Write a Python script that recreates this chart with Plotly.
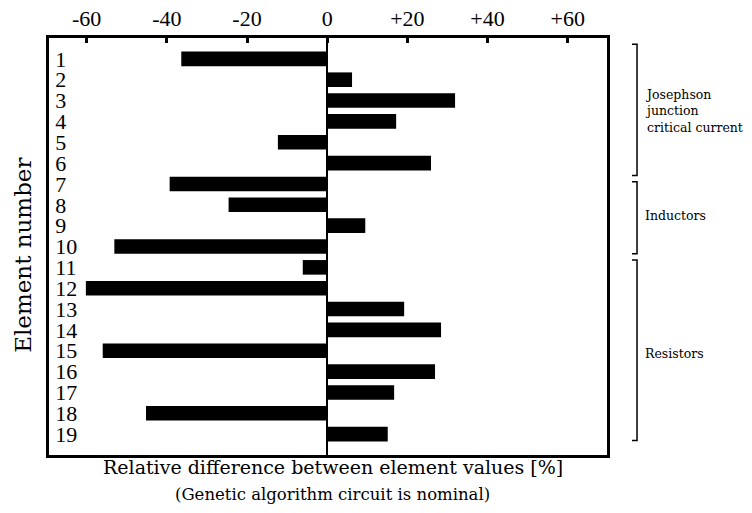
import plotly.graph_objects as go

elements = list(range(1, 20))
rel_diff = [-36.4, 6.2, 31.9, 17.2, -12.3, 25.9, -39.3, -24.6, 9.5, -53.1,
            -6.1, -60.2, 19.2, 28.4, -56.0, 26.9, 16.7, -45.2, 15.1]
x_ticks = [-60, -40, -20, 0, 20, 40, 60]
x_tick_labels = ["-60", "-40", "-20", "0", "+20", "+40", "+60"]
groups = ["Josephson<br>junction<br>critical current", "Inductors", "Resistors"]
group_spans = [(0.3, 6.6), (6.9, 10.35), (10.65, 19.3)]

NUM_FONT = "Liberation Serif"
TXT_FONT = "DejaVu Serif"

fig = go.Figure()
fig.add_trace(go.Bar(
    x=rel_diff, y=elements, orientation="h",
    marker=dict(color="black", line=dict(width=0)),
    width=0.7,
))

fig.update_layout(
    width=752, height=513,
    margin=dict(l=49, r=145, t=38, b=58, autoexpand=False),
    paper_bgcolor="white", plot_bgcolor="white",
    showlegend=False,
    font=dict(family=NUM_FONT, color="black", size=22),
    xaxis=dict(
        range=[-69.4, 69.8], side="top", automargin=False,
        tickvals=x_ticks, ticktext=x_tick_labels,
        ticks="inside", ticklen=5, tickwidth=2.5, tickcolor="black",
        showline=True, linecolor="black", linewidth=2.5, mirror=True,
        showgrid=False, zeroline=True, zerolinecolor="black", zerolinewidth=2,
        tickfont=dict(size=22, family=NUM_FONT, color="black"),
    ),
    yaxis=dict(
        range=[20, 0], automargin=False,
        tickvals=elements, ticktext=[str(e) for e in elements],
        ticks="", ticklabelposition="inside", ticklabelstandoff=8,
        showline=True, linecolor="black", linewidth=2.5, mirror=True,
        showgrid=False, zeroline=False,
        tickfont=dict(size=22, family=NUM_FONT, color="black"),
    ),
)

annotations = [
    dict(text="Relative difference between element values [%]", x=0.509, y=-0.029,
         xref="paper", yref="paper", xanchor="center", yanchor="middle",
         showarrow=False, font=dict(size=19, family=TXT_FONT, color="black")),
    dict(text="(Genetic algorithm circuit is nominal)", x=0.508, y=-0.094,
         xref="paper", yref="paper", xanchor="center", yanchor="middle",
         showarrow=False, font=dict(size=16.5, family=TXT_FONT, color="black")),
    dict(text="Element number", x=-0.0466, y=0.48, textangle=-90,
         xref="paper", yref="paper", xanchor="center", yanchor="middle",
         showarrow=False, font=dict(size=23, family=TXT_FONT, color="black")),
]
label_y = [3.5, 8.5, 15.15]
for g, (a, b), ly in zip(groups, group_spans, label_y):
    annotations.append(dict(text=g, x=1.0645, y=ly, xref="paper", yref="y",
                            xanchor="left", yanchor="middle", align="left",
                            showarrow=False, font=dict(size=12.5, family=TXT_FONT, color="black")))
    xv, xh = 1.0538, 1.0448
    fig.add_shape(type="path", xref="paper", yref="y",
                  path=f"M {xh},{a} L {xv},{a} L {xv},{b} L {xh},{b}",
                  line=dict(color="black", width=1.5))
fig.update_layout(annotations=annotations)

fig.write_html("out.html")
